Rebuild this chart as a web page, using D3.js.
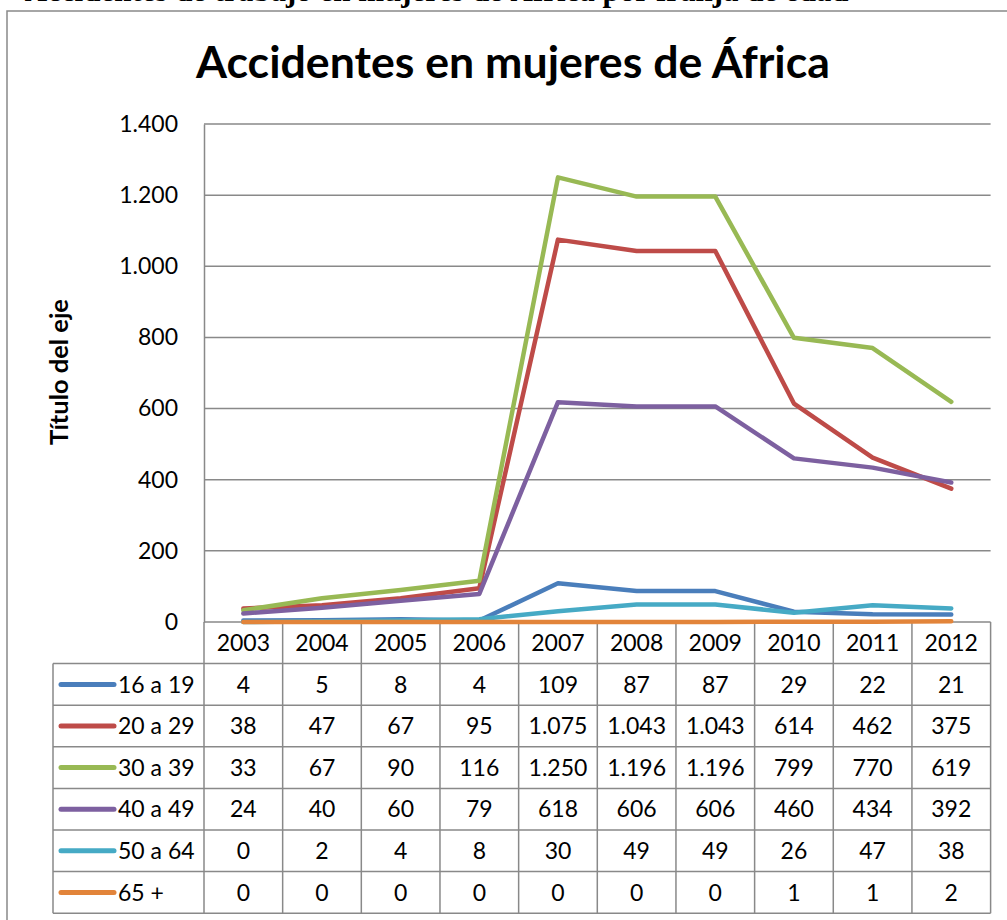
<!DOCTYPE html>
<html>
<head>
<meta charset="utf-8">
<script src="https://cdn.jsdelivr.net/npm/d3@7"></script>
<style>
  body { margin: 0; background: #fff; }
  text { font-family: Lato, "Open Sans", sans-serif; fill: #000; }
</style>
</head>
<body>
<div id="chart-area"></div>
<script>
// data
var years = ["2003", "2004", "2005", "2006", "2007", "2008", "2009", "2010", "2011", "2012"];
var groups = ["16 a 19", "20 a 29", "30 a 39", "40 a 49", "50 a 64", "65 +"];
var v16 = [4, 5, 8, 4, 109, 87, 87, 29, 22, 21];
var v20 = [38, 47, 67, 95, 1075, 1043, 1043, 614, 462, 375];
var v30 = [33, 67, 90, 116, 1250, 1196, 1196, 799, 770, 619];
var v40 = [24, 40, 60, 79, 618, 606, 606, 460, 434, 392];
var v50 = [0, 2, 4, 8, 30, 49, 49, 26, 47, 38];
var v65 = [0, 0, 0, 0, 0, 0, 0, 1, 1, 2];
var yTicks = [0, 200, 400, 600, 800, 1000, 1200, 1400];
var colors = ["#4a7ebb", "#be4b48", "#98b954", "#7d60a0", "#46aac5", "#e2843a"];

var series = [v16, v20, v30, v40, v50, v65].map(function(vals, i) {
    return { name: groups[i], values: vals, color: colors[i] };
});

var W = 1007, H = 920;
var plot = { left: 204, right: 990.6, top: 124, bottom: 622 };
var rowH = 41.6;
var legendLeft = 53;
var gridColor = "#898989";
var tableFont = "23px";

var svg = d3.select("#chart-area")
    .append("svg")
        .attr("width", W)
        .attr("height", H)
        .style("display", "block");

// number format with dot as thousands separator
var fmt = function(d) {
    return d3.format(",")(d).replace(/,/g, ".");
};

// scale a text's font so it takes a given width
var fitText = function(sel, width) {
    var size = parseFloat(sel.style("font-size"));
    var len = sel.node().getComputedTextLength();
    sel.style("font-size", (size * width / len) + "px");
};

// cut-off caption above the chart (only its bottom shows)
var cap = svg.append("text")
    .attr("y", 1)
    .attr("x", 0)
    .style("font-family", "'Liberation Serif', 'DejaVu Serif', serif")
    .style("font-weight", "bold")
    .style("font-size", "24px")
    .text("Accidentes de trabajo en mujeres de África por franja de edad");
var capText = cap.text();
var j1 = cap.node().getStartPositionOfChar(capText.indexOf("j")).x;
var j2 = cap.node().getStartPositionOfChar(capText.lastIndexOf("j")).x;
cap.style("font-size", (24 * 427 / (j2 - j1)) + "px");
j1 = cap.node().getStartPositionOfChar(capText.indexOf("j")).x;
cap.attr("x", 286 - j1);

// chart frame
svg.append("rect")
    .attr("x", 7)
    .attr("y", 11)
    .attr("width", W + 20)
    .attr("height", H + 20)
    .attr("fill", "none")
    .attr("stroke", gridColor)
    .attr("stroke-width", 1.5);

// title
var title = svg.append("text")
    .attr("x", 513)
    .attr("y", 78)
    .attr("text-anchor", "middle")
    .style("font-size", "40px")
    .style("font-weight", "bold")
    .text("Accidentes en mujeres de África");
fitText(title, 634);

// scales
var x = d3.scaleBand()
    .domain(years)
    .range([plot.left, plot.right]);

var y = d3.scaleLinear()
    .domain([0, 1400])
    .range([plot.bottom, plot.top]);

// gridlines
svg.append("g")
    .selectAll("line")
    .data(yTicks.slice(1))
    .enter()
    .append("line")
        .attr("x1", plot.left)
        .attr("x2", plot.right)
        .attr("y1", function(d) { return y(d); })
        .attr("y2", function(d) { return y(d); })
        .attr("stroke", gridColor)
        .attr("stroke-width", 1.5);

// Y axis
var yAxisCall = d3.axisLeft(y)
    .tickValues(yTicks)
    .tickSize(0)
    .tickPadding(26)
    .tickFormat(fmt);
var yAxisGroup = svg.append("g")
    .attr("transform", "translate(" + plot.left + ",0)")
    .call(yAxisCall);
yAxisGroup.select(".domain")
    .attr("stroke", gridColor)
    .attr("stroke-width", 1.5);
yAxisGroup.selectAll("text")
    .style("font-family", "Lato, sans-serif")
    .style("font-size", "23px")
    .attr("fill", "#000");

// Y label
var yLabel = svg.append("text")
    .attr("transform", "translate(68,372) rotate(-90)")
    .attr("text-anchor", "middle")
    .style("font-size", "18px")
    .style("font-weight", "bold")
    .text("Título del eje");
fitText(yLabel, 146);

// data table grid
var tableBottom = plot.bottom + rowH * 7;
var grid = svg.append("g")
    .attr("stroke", gridColor)
    .attr("stroke-width", 1.5);

// horizontal lines
grid.append("line")
    .attr("x1", plot.left).attr("x2", plot.right)
    .attr("y1", plot.bottom).attr("y2", plot.bottom);
d3.range(1, 8).forEach(function(i) {
    grid.append("line")
        .attr("x1", legendLeft).attr("x2", plot.right)
        .attr("y1", plot.bottom + rowH * i).attr("y2", plot.bottom + rowH * i);
});
// vertical lines
years.forEach(function(yr) {
    grid.append("line")
        .attr("x1", x(yr)).attr("x2", x(yr))
        .attr("y1", plot.bottom).attr("y2", tableBottom);
});
grid.append("line")
    .attr("x1", plot.right).attr("x2", plot.right)
    .attr("y1", plot.bottom).attr("y2", tableBottom);
grid.append("line")
    .attr("x1", legendLeft).attr("x2", legendLeft)
    .attr("y1", plot.bottom + rowH).attr("y2", tableBottom);

// year header
svg.append("g")
    .selectAll("text")
    .data(years)
    .enter()
    .append("text")
        .attr("x", function(d) { return x(d) + x.bandwidth() / 2; })
        .attr("y", plot.bottom + rowH / 2)
        .attr("dy", "0.36em")
        .attr("text-anchor", "middle")
        .style("font-size", tableFont)
        .text(function(d) { return d; });

// table rows
var rows = svg.append("g")
    .selectAll("g")
    .data(series)
    .enter()
    .append("g")
        .attr("transform", function(d, i) {
            return "translate(0," + (plot.bottom + rowH * (i + 1)) + ")";
        });

rows.append("line")
    .attr("x1", 61).attr("x2", 114)
    .attr("y1", rowH / 2).attr("y2", rowH / 2)
    .attr("stroke", function(d) { return d.color; })
    .attr("stroke-width", 5)
    .attr("stroke-linecap", "round");

rows.append("text")
    .attr("x", 118)
    .attr("y", rowH / 2)
    .attr("dy", "0.36em")
    .style("font-size", tableFont)
    .text(function(d) { return d.name; });

rows.selectAll("text.val")
    .data(function(d) { return d.values; })
    .enter()
    .append("text")
        .attr("class", "val")
        .attr("x", function(d, i) { return x(years[i]) + x.bandwidth() / 2; })
        .attr("y", rowH / 2)
        .attr("dy", "0.36em")
        .attr("text-anchor", "middle")
        .style("font-size", tableFont)
        .text(function(d) { return fmt(d); });

// lines
var line = d3.line()
    .x(function(d, i) { return x(years[i]) + x.bandwidth() / 2; })
    .y(function(d) { return y(d); });

svg.append("g")
    .selectAll("path")
    .data(series)
    .enter()
    .append("path")
        .attr("d", function(d) { return line(d.values); })
        .attr("fill", "none")
        .attr("stroke", function(d) { return d.color; })
        .attr("stroke-width", 4.5)
        .attr("stroke-linejoin", "round")
        .attr("stroke-linecap", "round");
</script>
</body>
</html>
